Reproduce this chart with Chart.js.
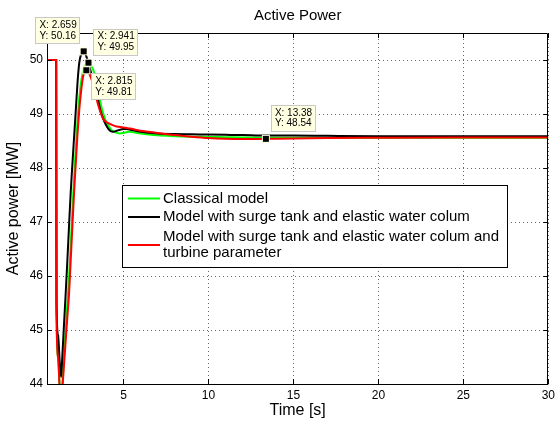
<!DOCTYPE html>
<html>
<head>
<meta charset="utf-8">
<script src="https://cdn.jsdelivr.net/npm/chart.js@4.4.1/dist/chart.umd.min.js"></script>
<style>
html,body{margin:0;padding:0;background:#fff;}
#wrap{width:559px;height:425px;}
</style>
</head>
<body>
<div id="wrap"><canvas id="c" width="559" height="425"></canvas></div>
<script>
// ---- data ----
const chartTitle = "Active Power";
const xLabel = "Time [s]";
const yLabel = "Active power [MW]";
const xTicks = [5, 10, 15, 20, 25, 30];
const yTicks = [44, 45, 46, 47, 48, 49, 50];
const seriesNames = ["Classical model", "Model with surge tank and elastic water colum", "Model with surge tank and elastic water colum and turbine parameter"];
const seriesLegendLines = [["Classical model"], ["Model with surge tank and elastic water colum"], ["Model with surge tank and elastic water colum and", "turbine parameter"]];
const time = [0.5, 1.0, 1.04, 1.06, 1.15, 1.25, 1.33, 1.4, 1.5, 1.6, 1.7, 1.8, 1.9, 2.0, 2.1, 2.2, 2.3, 2.4, 2.5, 2.6, 2.659, 2.7, 2.8, 2.9, 3.0, 3.1, 3.2, 3.35, 3.5, 3.65, 3.8, 3.95, 4.1, 4.25, 4.4, 4.6, 4.8, 5.0, 5.2, 5.4, 5.7, 6.0, 6.5, 7.0, 8.0, 9.0, 10, 11, 12, 13.38, 15, 17, 20, 25, 30];
const classical = [50, 50, 50, 45.4, 44.5, 43.95, 43.75, 44.0, 44.5, 45.0, 45.5, 46.0, 46.6, 47.25, 47.85, 48.4, 48.9, 49.3, 49.58, 49.76, 49.83, 49.87, 49.92, 49.95, 49.94, 49.9, 49.83, 49.69, 49.45, 49.2, 49.02, 48.88, 48.79, 48.72, 48.68, 48.65, 48.64, 48.65, 48.665, 48.67, 48.655, 48.64, 48.62, 48.605, 48.59, 48.58, 48.575, 48.57, 48.565, 48.56, 48.56, 48.56, 48.56, 48.56, 48.56];
const surgeTank = [50, 50, 50, 45.5, 44.9, 44.4, 44.13, 44.5, 45.1, 45.68, 46.3, 46.95, 47.58, 48.1, 48.6, 49.1, 49.6, 49.95, 50.1, 50.15, 50.16, 50.15, 50.08, 49.98, 49.87, 49.76, 49.66, 49.5, 49.27, 49.06, 48.92, 48.81, 48.73, 48.68, 48.67, 48.69, 48.71, 48.72, 48.72, 48.71, 48.69, 48.67, 48.655, 48.64, 48.63, 48.625, 48.62, 48.615, 48.61, 48.6, 48.6, 48.595, 48.59, 48.59, 48.59];
const turbine = [50, 50, 50, 45.3, 44.5, 43.9, 43.7, 43.9, 44.35, 44.8, 45.25, 45.68, 46.32, 46.96, 47.58, 48.12, 48.65, 49.08, 49.4, 49.65, 49.74, 49.77, 49.81, 49.8, 49.74, 49.66, 49.56, 49.38, 49.18, 49.03, 48.91, 48.86, 48.83, 48.81, 48.79, 48.77, 48.76, 48.75, 48.74, 48.73, 48.71, 48.69, 48.67, 48.65, 48.61, 48.58, 48.555, 48.54, 48.535, 48.54, 48.545, 48.555, 48.56, 48.565, 48.565];
const tipX = [2.659, 2.941, 2.815, 13.38];
const tipY = [50.16, 49.95, 49.81, 48.54];

// ---- styling ----
const FONT = "'Liberation Sans', Arial, Helvetica, sans-serif";
const colors = ["#00ff00", "#000000", "#ff0000"];
const tipDirs = [{up: true, left: true}, {up: true, left: false}, {up: false, left: false}, {up: true, left: false}];

function pts(vals) { return time.map((t, i) => ({x: t, y: vals[i]})); }

const framePlugin = {
  id: 'frame',
  beforeDatasetsDraw(chart) {
    const ctx = chart.ctx, a = chart.chartArea;
    const xs = chart.scales.x, ys = chart.scales.y;
    ctx.save();
    ctx.strokeStyle = 'rgba(0,0,0,0.6)';
    ctx.lineWidth = 1;
    ctx.setLineDash([1, 3]);
    ctx.beginPath();
    xTicks.forEach(v => {
      const px = Math.round(xs.getPixelForValue(v)) + 0.5;
      ctx.moveTo(px, a.bottom); ctx.lineTo(px, a.top);
    });
    yTicks.forEach(v => {
      const py = Math.round(ys.getPixelForValue(v)) + 0.5;
      ctx.moveTo(a.left, py); ctx.lineTo(a.right, py);
    });
    ctx.stroke();
    ctx.restore();
  },
  afterDatasetsDraw(chart) {
    const ctx = chart.ctx, a = chart.chartArea;
    const xs = chart.scales.x, ys = chart.scales.y;
    ctx.save();
    ctx.strokeStyle = '#000';
    ctx.lineWidth = 1;
    ctx.beginPath();
    ctx.rect(Math.round(a.left) + 0.5, Math.round(a.top) + 0.5, Math.round(a.right - a.left) - 1, Math.round(a.bottom - a.top));
    ctx.stroke();
    ctx.beginPath();
    xTicks.forEach(v => {
      const px = Math.round(xs.getPixelForValue(v)) + 0.5;
      ctx.moveTo(px, a.bottom); ctx.lineTo(px, a.bottom - 5);
      ctx.moveTo(px, a.top); ctx.lineTo(px, a.top + 5);
    });
    yTicks.forEach(v => {
      const py = Math.round(ys.getPixelForValue(v)) + 0.5;
      ctx.moveTo(a.left, py); ctx.lineTo(a.left + 5, py);
      ctx.moveTo(a.right, py); ctx.lineTo(a.right - 5, py);
    });
    ctx.stroke();
    // title
    ctx.fillStyle = '#000';
    ctx.font = "15px " + FONT;
    ctx.textAlign = 'center';
    ctx.textBaseline = 'middle';
    ctx.fillText(chartTitle, (a.left + a.right) / 2, 16);
    ctx.restore();
  },
  afterDraw(chart) {
    const ctx = chart.ctx;
    const xs = chart.scales.x, ys = chart.scales.y;
    ctx.save();
    // legend
    const lx = 122, ly = 185, lw = 385, lh = 82;
    ctx.fillStyle = '#fff';
    ctx.fillRect(lx, ly, lw, lh);
    ctx.strokeStyle = '#000';
    ctx.lineWidth = 1;
    ctx.strokeRect(lx + 0.5, ly + 0.5, lw, lh);
    ctx.font = "15px " + FONT;
    ctx.textAlign = 'left';
    ctx.textBaseline = 'middle';
    const rowY = [198.5, 217, 245];
    chart.data.datasets.forEach((ds, i) => {
      const lines = seriesLegendLines[i];
      ctx.strokeStyle = ds.borderColor;
      ctx.lineWidth = 2;
      ctx.beginPath();
      ctx.moveTo(128, rowY[i]); ctx.lineTo(160, rowY[i]);
      ctx.stroke();
      ctx.fillStyle = '#000';
      const startY = rowY[i] - (lines.length - 1) * 16.5 / 2;
      lines.forEach((ln, k) => ctx.fillText(ln, 163, startY + k * 16.5));
    });
    // data tips
    ctx.font = "10px " + FONT;
    tipX.forEach((tx, i) => {
      const px = xs.getPixelForValue(tx), py = ys.getPixelForValue(tipY[i]);
      const l1 = "X: " + tx, l2 = "Y: " + tipY[i].toFixed(2);
      const w = Math.max(ctx.measureText(l1).width, ctx.measureText(l2).width) + 7;
      const h = 26;
      const d = tipDirs[i];
      const bx = d.left ? px - 4 - w : px + 5;
      const by = d.up ? py - 8 - h : py + 3;
      ctx.fillStyle = 'rgb(255,255,225)';
      ctx.fillRect(bx, by, w, h);
      ctx.strokeStyle = 'rgb(200,200,200)';
      ctx.lineWidth = 1;
      ctx.strokeRect(Math.round(bx) + 0.5, Math.round(by) + 0.5, Math.round(w), h);
      ctx.fillStyle = '#000';
      ctx.textAlign = 'left';
      ctx.fillText(l1, bx + 4, by + 8);
      ctx.fillText(l2, bx + 4, by + 18.5);
      ctx.fillStyle = 'rgb(255,255,225)';
      ctx.fillRect(px - 4, py - 4, 8, 8);
      ctx.fillStyle = '#000';
      ctx.fillRect(px - 3, py - 3, 6, 6);
    });
    ctx.restore();
  }
};

new Chart(document.getElementById('c'), {
  type: 'line',
  data: {
    datasets: [
      {label: seriesNames[0], data: pts(classical), borderColor: colors[0], order: 3},
      {label: seriesNames[1], data: pts(surgeTank), borderColor: colors[1], order: 2},
      {label: seriesNames[2], data: pts(turbine), borderColor: colors[2], order: 1}
    ].map(d => Object.assign(d, {borderWidth: 2, pointRadius: 0, fill: false, tension: 0, cubicInterpolationMode: 'monotone'}))
  },
  options: {
    responsive: false,
    devicePixelRatio: 1,
    animation: false,
    layout: {padding: {left: 0, right: 8, top: 33, bottom: 0}},
    plugins: {legend: {display: false}, tooltip: {enabled: false}, title: {display: false}},
    scales: {
      x: {
        type: 'linear', min: 0.5, max: 30,
        afterBuildTicks: s => { s.ticks = xTicks.map(v => ({value: v})); },
        afterFit: s => { s.height = 41; },
        grid: {display: false, drawTicks: false},
        border: {display: false},
        ticks: {color: '#000', font: {family: FONT, size: 12}, padding: 4, maxRotation: 0},
        title: {display: true, text: xLabel, color: '#000', font: {family: FONT, size: 16}, padding: {top: 0, bottom: 5}}
      },
      y: {
        type: 'linear', min: 44, max: 50.5,
        afterBuildTicks: s => { s.ticks = yTicks.map(v => ({value: v})); },
        afterFit: s => { s.width = 47; },
        grid: {display: false, drawTicks: false},
        border: {display: false},
        ticks: {color: '#000', font: {family: FONT, size: 12}, padding: 4},
        title: {display: true, text: yLabel, color: '#000', font: {family: FONT, size: 16}, padding: {top: 4, bottom: 0}}
      }
    }
  },
  plugins: [framePlugin]
});
</script>
</body>
</html>
